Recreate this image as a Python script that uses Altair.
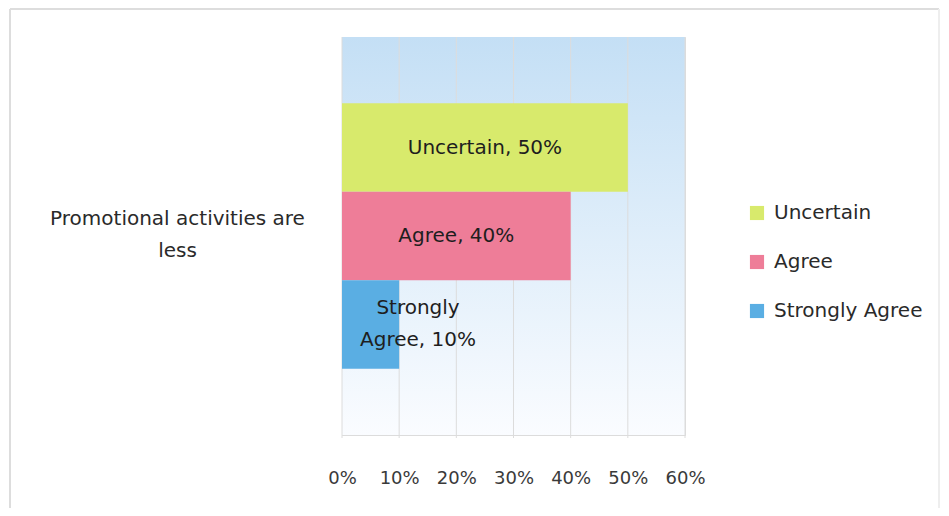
import json
import altair as alt
import pandas as pd

category = "Promotional activities are less"
category_lines = ["Promotional activities are", "less"]
series = ["Uncertain", "Agree", "Strongly Agree"]
values = [0.50, 0.40, 0.10]
labels = ["Uncertain, 50%", "Agree, 40%", ["Strongly", "Agree, 10%"]]
colors = ["#d8ea6c", "#ee7d98", "#5aaee3"]
x_ticks = [0, 0.1, 0.2, 0.3, 0.4, 0.5, 0.6]

df = pd.DataFrame({
    "cat": [category] * 3,
    "series": series,
    "value": values,
    "label": labels,
})
ticks_df = pd.DataFrame({"tick": x_ticks})
one = pd.DataFrame({"a": [0]})

FONT = "DejaVu Sans"
W, H = 343, 398
PAD_L, PAD_T = 334, 29

x_scale = alt.Scale(domain=[0, 0.6], nice=False)

# faint outer frame (left, top, right)
frame_col = "#dddddd"
frame_left = alt.Chart(one).mark_rule(color=frame_col, strokeWidth=2).encode(
    x=alt.value(-PAD_L + 2), y=alt.value(-PAD_T + 1), y2=alt.value(H + 80))
frame_top = alt.Chart(one).mark_rule(color=frame_col, strokeWidth=2).encode(
    x=alt.value(-PAD_L + 2), x2=alt.value(W + 254), y=alt.value(-PAD_T + 1))
frame_right = alt.Chart(one).mark_rule(color="#eeeeee", strokeWidth=2).encode(
    x=alt.value(W + 254), y=alt.value(-PAD_T + 1), y2=alt.value(H + 80))

bg = alt.Chart(one).mark_rect(
    fill=alt.LinearGradient(gradient="linear", x1=0, x2=0, y1=0, y2=1,
                            stops=[alt.GradientStop(offset=0, color="#c4dff5"),
                                   alt.GradientStop(offset=1, color="#fafcff")])
).encode(x=alt.value(0), x2=alt.value(W), y=alt.value(0), y2=alt.value(H))

grid = alt.Chart(ticks_df).mark_rule(color="#dcdcdc", strokeWidth=1).encode(
    x=alt.X("tick:Q", scale=x_scale),
    y=alt.value(0), y2=alt.value(H + 3),
)

y_enc = alt.Y("cat:N", title=None,
              scale=alt.Scale(paddingInner=0, paddingOuter=0.25),
              axis=alt.Axis(labelExpr=json.dumps(category_lines),
                            labelAlign="center", labelPadding=165,
                            labelBaseline="middle", labelLineHeight=32,
                            labelOffset=-17,
                            labelFontSize=20, labelColor="#2a2a2a",
                            labelFont=FONT, domain=False, ticks=False,
                            labelLimit=400))
yoff = alt.YOffset("series:N", sort=series, scale=alt.Scale(paddingInner=0, paddingOuter=0))

bars = alt.Chart(df).mark_bar(strokeWidth=0).encode(
    x=alt.X("value:Q", title=None, scale=x_scale,
            axis=alt.Axis(values=x_ticks, format=".0%", labelFontSize=18,
                          labelColor="#3a3a3a", labelFont=FONT, labelPadding=34,
                          labelOverlap=False, labelFlush=False,
                          grid=False, domainColor="#dcdcdc", ticks=False)),
    y=y_enc,
    yOffset=yoff,
    color=alt.Color("series:N", sort=series,
                    scale=alt.Scale(domain=series, range=colors),
                    legend=alt.Legend(title=None, orient="none", legendX=405,
                                      legendY=166, symbolType="square",
                                      symbolSize=200, labelFontSize=20,
                                      labelFont=FONT, labelColor="#2a2a2a",
                                      rowPadding=29, labelOffset=7,
                                      symbolStrokeWidth=0)),
)

text_base = alt.Chart(df).transform_calculate(
    lx="max(datum.value/2, 0.133)"
)
text_kw = dict(fontSize=20, font=FONT, color="#1e1e1e", lineHeight=32,
               align="center", baseline="middle")
text_enc = dict(x=alt.X("lx:Q", scale=x_scale), y=alt.Y("cat:N"),
                yOffset=yoff, text="label")

text1 = text_base.transform_filter("!isArray(datum.label)").mark_text(**text_kw).encode(**text_enc)
text2 = text_base.transform_filter("isArray(datum.label)").mark_text(dy=-16, **text_kw).encode(**text_enc)

chart = alt.layer(frame_left, frame_top, frame_right, bg, grid, bars, text1, text2).properties(
    width=W, height=H,
    autosize=alt.AutoSizeParams(type="none"),
    padding={"left": PAD_L, "top": PAD_T, "right": 256, "bottom": 73},
).configure_view(stroke=None).configure(background="white")

chart.save("out.html", embed_options={"renderer": "svg", "actions": False})
